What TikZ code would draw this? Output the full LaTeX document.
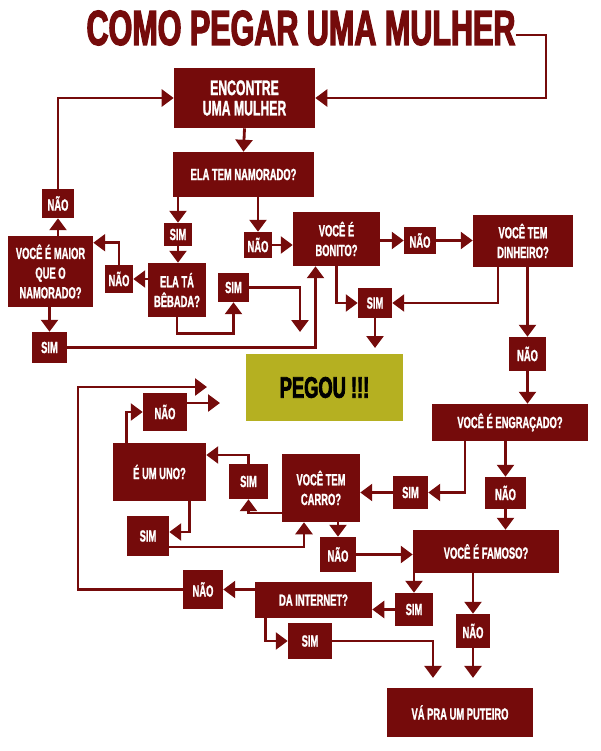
\documentclass[tikz,border=0pt]{standalone}
\usepackage{fontspec}
\setmainfont{Liberation Sans}
\newfontfamily\condfont[UprightFont={* Bold}, FakeStretch=0.58, FakeBold=1.2]{Liberation Sans}
\newfontfamily\headfont[UprightFont={* Bold}, FakeStretch=0.62, FakeBold=2.5]{Liberation Sans}
\usetikzlibrary{arrows.meta,calc}
\definecolor{vinho}{RGB}{117,11,11}
\definecolor{oliva}{RGB}{181,176,33}

\begin{document}
\begin{tikzpicture}[x=0.025cm,y=-0.025cm]
  % Define style for boxes and arrows
  \tikzstyle{box} = [rectangle, fill=vinho, text=white, inner sep=0pt, align=center, font=\condfont\fontsize{11.5}{14}\selectfont]
  \tikzstyle{arr} = [vinho, line width=2pt, -{Triangle[width=12pt,length=8.5pt]}]

  \useasboundingbox (0,0) rectangle (600,751);

  % Title
  \node(title)[text=vinho, inner sep=0pt, font=\headfont\fontsize{35}{35}\selectfont] at (301,28) {COMO PEGAR UMA MULHER};

  % Question boxes
  \node(enc)[box, minimum width=3.525cm, minimum height=1.5cm, font=\condfont\fontsize{15}{14.5}\selectfont] at (244.5,98) {ENCONTRE\\UMA MULHER};
  \node(namor)[box, minimum width=3.525cm, minimum height=1.125cm] at (243.5,174.5) {ELA TEM NAMORADO?};
  \node(bonito)[box, minimum width=2.175cm, minimum height=1.35cm] at (336.5,239) {VOCÊ É\\BONITO?};
  \node(bebada)[box, minimum width=1.45cm, minimum height=1.35cm] at (177,290) {ELA TÁ\\BÊBADA?};
  \node(maior)[box, minimum width=2.125cm, minimum height=1.775cm] at (50.5,271.5) {VOCÊ É MAIOR\\QUE O\\NAMORADO?};
  \node(dinh)[box, minimum width=2.5cm, minimum height=1.3cm] at (523,241) {VOCÊ TEM\\DINHEIRO?};
  \node(engr)[box, minimum width=3.9cm, minimum height=0.925cm] at (510,422.5) {VOCÊ É ENGRAÇADO?};
  \node(carro)[box, minimum width=1.95cm, minimum height=1.7cm] at (321,488) {VOCÊ TEM\\CARRO?};
  \node(famoso)[box, minimum width=3.65cm, minimum height=1.075cm] at (486,551.5) {VOCÊ É FAMOSO?};
  \node(uno)[box, minimum width=2.325cm, minimum height=1.45cm] at (159.5,472) {É UM UNO?};
  \node(inet)[box, minimum width=2.925cm, minimum height=0.9cm] at (313.5,600) {DA INTERNET?};
  \node(puteiro)[box, minimum width=3.65cm, minimum height=1.225cm] at (460,712.5) {VÁ PRA UM PUTEIRO};
  \node(pegou)[rectangle, fill=oliva, minimum width=3.925cm, minimum height=1.675cm, font=\headfont\fontsize{21}{21}\selectfont] at (324.5,387.5) {PEGOU !!!};

  % Answer boxes
  \foreach \nname/\cx/\cy/\w/\h/\txt in {
    sim1/178/234.5/28/23/SIM, nao1/258/245/28/26/NÃO,
    nao2/119/279/28/28/NÃO, nao3/58/203.5/32/29/NÃO,
    sim2/49.5/347.5/35/31/SIM, sim3/233.5/287.5/31/29/SIM,
    nao4/420/240.5/32/27/NÃO, sim4/375/303/34/30/SIM,
    nao5/527.5/354/37/34/NÃO, sim5/410.5/492.5/35/33/SIM,
    nao6/505.5/493/41/32/NÃO, nao7/338/554.5/36/35/NÃO,
    sim6/248.5/481.5/39/35/SIM, nao8/165/412/44/38/NÃO,
    sim7/148/536/42/40/SIM, nao9/203/589.5/40/39/NÃO,
    sim8/414/609.5/38/33/SIM, nao10/473/631/34/34/NÃO,
    sim9/310/641/44/36/SIM} {
    \node(\nname)[box, minimum width=\w*0.025cm, minimum height=\h*0.025cm] at (\cx,\cy) {\txt};
  }

  % Free arrow ends
  \coordinate(e1) at (300,332);
  \coordinate(e2) at (375,348);
  \coordinate(e3) at (220,403);
  \coordinate(e4) at (207,387);

  % Connectors
  \draw[arr] ([yshift=-0.175cm]title.east) -| (546,98) -- (enc.east);
  \draw[arr] (nao3.north) |- (enc.west);
  \draw[arr] (enc.south) -- (namor.north);
  \draw[arr] (sim1 |- namor.south) -- (sim1.north);
  \draw[arr] (nao1 |- namor.south) -- (nao1.north);
  \draw[arr] (sim1.south) -- (sim1 |- bebada.north);
  \draw[arr] (nao1.east) -- (nao1.east -| bonito.west);
  \draw[arr] (bebada.west |- nao2) -- (nao2.east);
  \draw[arr] (nao2.north) |- ([yshift=-0.175cm]maior.north east);
  \draw[arr] (nao3 |- maior.north) -- (nao3.south);
  \draw[arr] (sim2 |- maior.south) -- (sim2.north);
  \draw[arr] (sim2.east) -| ($(bonito.south)+(-21,0)$);
  \draw[arr] (bebada.south) -- ++(0,16) -| (sim3.south);
  \draw[arr] (sim3.east) -| (e1);
  \draw[arr] (bonito.east |- nao4) -- (nao4.west);
  \draw[arr] (nao4.east) -- (nao4.east -| dinh.west);
  \draw[arr] (bonito.south) |- (sim4.west);
  \draw[arr] ($(dinh.south)+(-25,0)$) |- (sim4.east);
  \draw[arr] (sim4.south) -- (e2);
  \draw[arr] (nao5 |- dinh.south) -- (nao5.north);
  \draw[arr] (nao5.south) -- (nao5.south |- engr.north);
  \draw[arr] ($(engr.south)+(-45,0)$) |- (sim5.east);
  \draw[arr] (sim5.west) -- (sim5.west -| carro.east);
  \draw[arr] (nao6 |- engr.south) -- (nao6.north);
  \draw[arr] (nao6.south) -- (nao6.south |- famoso.north);
  \draw[arr] (nao7 |- carro.south) -- (nao7.north);
  \draw[arr] (nao7.east) -- (nao7.east -| famoso.west);
  \draw[arr] ($(carro.west)+(0,25)$) -| (sim6.south);
  \draw[arr] (sim6.north) |- ($(uno.east)+(0,-17)$);
  \draw[arr] ($(uno.south)+(30,0)$) |- ($(sim7.east)+(0,-4)$);
  \draw[arr] ($(sim7.east)+(0,11)$) -| ($(carro.south)+(-17,0)$);
  \draw[arr] ($(uno.north)+(-33,0)$) |- (nao8.west);
  \draw[arr] ($(nao8.east)+(0,-9)$) -- (e3);
  \draw[arr] (nao9.west) -| (78,387) -- (e4);
  \draw[arr] (inet.west |- nao9) -- (nao9.east);
  \draw[arr] (sim8 |- famoso.south) -- (sim8.north);
  \draw[arr] (sim8.west) -- (sim8.west -| inet.east);
  \draw[arr] (nao10 |- famoso.south) -- (nao10.north);
  \draw[arr, shorten >=7pt] (nao10.south) -- (nao10.south |- puteiro.north);
  \draw[arr] ($(inet.south)+(-48,0)$) |- (sim9.west);
  \draw[arr, shorten >=7pt] (sim9.east) -| ($(puteiro.north)+(-27,0)$);
\end{tikzpicture}
\end{document}
